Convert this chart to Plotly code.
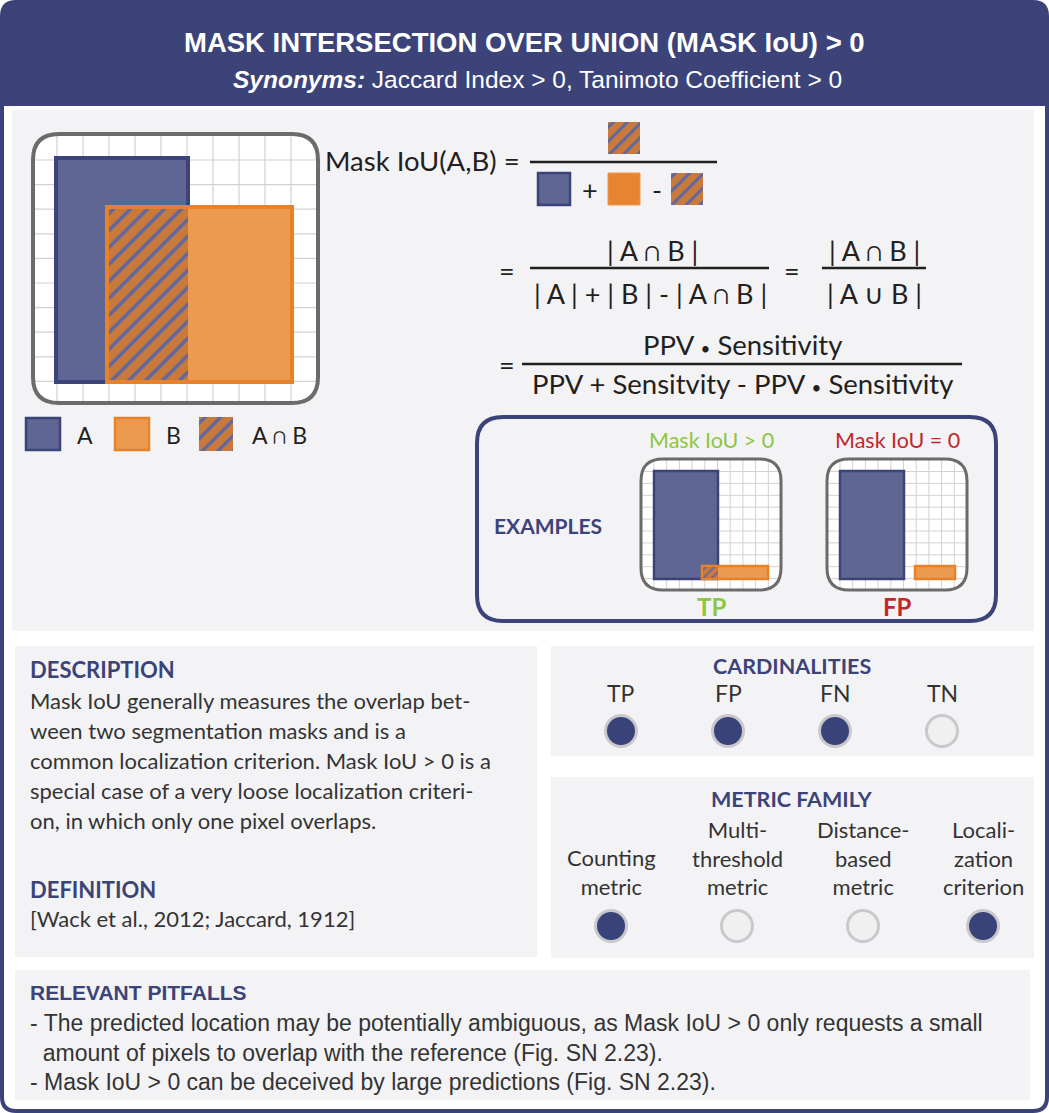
import plotly.graph_objects as go

W, H = 1049, 1113

# colours
NAVY = '#3B4379'
PANEL = '#F3F3F6'
BLUE_FILL = '#5F6694'
ORANGE_FILL = '#EC9A50'
ORANGE_LINE = '#E8822A'
HATCH_BG = '#C97A3B'
HATCH_FG = '#5F67A0'
GRID = '#D2D2D2'
BOX_LINE = '#6B6B6B'
TEXT = '#231F20'
BODY = '#333333'
GREEN = '#8DC63F'
RED = '#C1272D'
DOT_ON = '#394279'
DOT_OFF = '#F0F0F0'
DOT_RING = '#C9C9CD'

NARROW = 'Liberation Sans Narrow, Arial Narrow, sans-serif'
SANS = 'Lato, Open Sans, sans-serif'

# ---- content ----
title = 'MASK INTERSECTION OVER UNION (MASK IoU) &gt; 0'
subtitle = '<b><i>Synonyms:</i></b> Jaccard Index &gt; 0, Tanimoto Coefficient &gt; 0'

legend_labels = ['A', 'B', 'A ∩ B']

DOT = "<span style='font-size:17px'>•</span>"
formula_lhs = 'Mask IoU(A,B) ='
formula_num2 = '| A ∩ B |'
formula_den2 = '| A | + | B | - | A ∩ B |'
formula_den3 = '| A ∪ B |'
formula_num4 = f'PPV {DOT} Sensitivity'
formula_den4 = f'PPV + Sensitvity - PPV {DOT} Sensitivity'

description_lines = [
    'Mask IoU generally measures the overlap bet-',
    'ween two segmentation masks and is a',
    'common localization criterion. Mask IoU &gt; 0 is a',
    'special case of a very loose localization criteri-',
    'on, in which only one pixel overlaps.',
]
definition_text = '[Wack et al., 2012; Jaccard, 1912]'

cardinality_labels = ['TP', 'FP', 'FN', 'TN']
cardinality_active = [True, True, True, False]

family_labels = ['Counting<br>metric', 'Multi-<br>threshold<br>metric',
                 'Distance-<br>based<br>metric', 'Locali-<br>zation<br>criterion']
family_active = [True, False, False, True]

pitfall_lines = [
    '- The predicted location may be potentially ambiguous, as Mask IoU &gt; 0 only requests a small',
    '&nbsp;&nbsp;amount of pixels to overlap with the reference (Fig. SN 2.23).',
    '- Mask IoU &gt; 0 can be deceived by large predictions (Fig. SN 2.23).',
]

example_titles = ['Mask IoU &gt; 0', 'Mask IoU = 0']
example_labels = ['TP', 'FP']
example_colors = [GREEN, RED]

shapes = []
annotations = []


def rrect_path(x0, y0, x1, y1, r):
    return (f'M {x0+r},{y0} L {x1-r},{y0} Q {x1},{y0} {x1},{y0+r} '
            f'L {x1},{y1-r} Q {x1},{y1} {x1-r},{y1} L {x0+r},{y1} '
            f'Q {x0},{y1} {x0},{y1-r} L {x0},{y0+r} Q {x0},{y0} {x0+r},{y0} Z')


def rrect(x0, y0, x1, y1, r, fill=None, line=None, width=0, layer='below'):
    shapes.append(dict(type='path', path=rrect_path(x0, y0, x1, y1, r),
                       fillcolor=fill or 'rgba(0,0,0,0)',
                       line=dict(color=line or 'rgba(0,0,0,0)', width=width),
                       layer=layer))


def rect(x0, y0, x1, y1, fill=None, line=None, width=0, layer='below'):
    shapes.append(dict(type='rect', x0=x0, y0=y0, x1=x1, y1=y1,
                       fillcolor=fill or 'rgba(0,0,0,0)',
                       line=dict(color=line or 'rgba(0,0,0,0)', width=width),
                       layer=layer))


def hline(x0, x1, y, color, width):
    shapes.append(dict(type='line', x0=x0, x1=x1, y0=y, y1=y,
                       line=dict(color=color, width=width), layer='below'))


def vline(x, y0, y1, color, width):
    shapes.append(dict(type='line', x0=x, x1=x, y0=y0, y1=y1,
                       line=dict(color=color, width=width), layer='below'))


def text(x, y, s, size, color=TEXT, family=SANS, xanchor='center', bold=False,
         yanchor='middle'):
    if bold:
        s = f'<b>{s}</b>'
    annotations.append(dict(x=x, y=y, text=s, showarrow=False, xanchor=xanchor,
                            yanchor=yanchor, align='left' if xanchor == 'left' else 'center',
                            font=dict(size=size, color=color, family=family)))


def grid_box(x0, y0, x1, y1, r, gx0, dx, gy0, dy, n, lw, bw):
    rrect(x0, y0, x1, y1, r, fill='white')
    for k in range(n):
        vline(gx0 + k * dx, y0 + 1, y1 - 1, GRID, lw)
        hline(x0 + 1, x1 - 1, gy0 + k * dy, GRID, lw)
    return (x0, y0, x1, y1, r, bw)


hatch = dict(x=[], w=[], base=[], h=[], size=[])


def hatched(x0, y0, x1, y1, size):
    hatch['x'].append((x0 + x1) / 2)
    hatch['w'].append(x1 - x0)
    hatch['base'].append(y0)
    hatch['h'].append(y1 - y0)
    hatch['size'].append(size)


# ---- frame & header ----
rrect(2, 2, 1047, 1111, 14, fill='white', line=NAVY, width=4)
shapes.append(dict(type='path', layer='below', fillcolor=NAVY, line=dict(width=0),
                   path='M 2,16 Q 2,2 16,2 L 1033,2 Q 1047,2 1047,16 L 1047,106 L 2,106 Z'))
text(524, 42, title, 27.5, 'white', NARROW, bold=True)
text(537, 79, subtitle, 24.5, 'white', NARROW)

# ---- top panel ----
rect(12, 110, 1034, 631, fill=PANEL)

# large diagram
big = grid_box(33, 134, 318, 403, 26, 57, 26, 160, 24.6, 10, 1.2, 4)
rect(56, 158, 188, 382, fill=BLUE_FILL, line=NAVY, width=4)
rect(107, 207, 292, 382, fill=ORANGE_FILL, line=ORANGE_LINE, width=4)
hatched(109, 209, 188, 380, 12)
rrect(*big[:5], line=BOX_LINE, width=big[5])

# legend under diagram
rect(26, 418, 60, 450, fill=BLUE_FILL, line=NAVY, width=2.5)
text(85, 435, legend_labels[0], 23)
rect(115, 418, 149, 450, fill=ORANGE_FILL, line=ORANGE_LINE, width=2.5)
text(173, 435, legend_labels[1], 23)
hatched(199, 417, 233, 451, 11)
text(279, 435, legend_labels[2], 23)

# formula line 1
text(522, 160, formula_lhs, 27.5, xanchor='right')
hline(530, 717, 162, TEXT, 2.5)
hatched(608, 122, 640, 154, 10)
rect(538, 173, 570, 205, fill=BLUE_FILL, line=NAVY, width=2.5)
text(590, 189, '+', 27)
rect(608, 173, 640, 205, fill='#E8842F', line=ORANGE_FILL, width=1)
text(657, 189, '-', 27)
hatched(671, 173, 703, 205, 10)

# formula line 2
text(507, 270, '=', 27)
hline(530, 769, 268, TEXT, 2.5)
text(652, 250, formula_num2, 27)
text(650, 293, formula_den2, 27)
text(792, 270, '=', 27)
hline(822, 926, 268, TEXT, 2.5)
text(874, 250, formula_num2, 27)
text(874, 293, formula_den3, 27)

# formula line 3
text(507, 364, '=', 27)
hline(522, 962, 364, TEXT, 2.5)
text(742, 344, formula_num4, 27.5)
text(742, 383, formula_den4, 27.5)

# examples box
rrect(477, 417, 996, 621, 26, line=NAVY, width=4)
text(548, 525, 'EXAMPLES', 21, NAVY, SANS, bold=True)
ex_shift = [0, 186]
orange_bars = [(702, 768), (915, 955)]
for i, dx in enumerate(ex_shift):
    box = grid_box(641 + dx, 459, 781 + dx, 590, 22, 654 + dx, 12.7, 471.5, 11.9, 10, 1, 3)
    rect(654 + dx, 471, 718 + dx, 579, fill=BLUE_FILL, line=NAVY, width=2.5)
    ox0, ox1 = orange_bars[i]
    rect(ox0, 566, ox1, 579, fill=ORANGE_FILL, line=ORANGE_LINE, width=2.5)
    rrect(*box[:5], line=BOX_LINE, width=box[5])
    text(711 + dx, 440, example_titles[i], 21.5, example_colors[i])
    text(711 + dx, 606, example_labels[i], 24, example_colors[i], bold=True)
hatched(703, 567, 718, 578, 6)

# ---- description panel ----
rect(15, 646, 537, 957, fill=PANEL)
text(28, 669, 'DESCRIPTION', 22, NAVY, SANS, 'left', bold=True)
for i, ln in enumerate(description_lines):
    text(28, 700 + i * 30, ln, 22, BODY, SANS, 'left')
text(28, 889, 'DEFINITION', 22, NAVY, SANS, 'left', bold=True)
text(28, 918, definition_text, 22, BODY, SANS, 'left')

# ---- cardinalities ----
rect(551, 646, 1034, 756, fill=PANEL)
text(792, 666, 'CARDINALITIES', 21.5, NAVY, SANS, bold=True)
card_x = [621, 728, 835, 942]
for x, lab in zip(card_x, cardinality_labels):
    text(x, 693, lab, 23, BODY)

# ---- metric family ----
rect(551, 777, 1034, 958, fill=PANEL)
text(792, 799, 'METRIC FAMILY', 21.5, NAVY, SANS, bold=True)
fam_x = [611, 737, 863, 983]
for x, lab in zip(fam_x, family_labels):
    text(x, 902, lab, 22, BODY, yanchor='bottom')

# ---- pitfalls ----
rect(15, 970, 1030, 1100, fill=PANEL)
text(28, 992, 'RELEVANT PITFALLS', 21, NAVY, NARROW, 'left', bold=True)
for i, ln in enumerate(pitfall_lines):
    text(28, 1023 + i * 29.5, ln, 23, BODY, NARROW, 'left')

fig = go.Figure()

# hatched areas (intersection)
fig.add_trace(go.Bar(
    x=hatch['x'], y=hatch['h'], base=hatch['base'], width=hatch['w'],
    marker=dict(color=HATCH_BG, line=dict(width=0),
                pattern=dict(shape='/', fgcolor=HATCH_FG, bgcolor=HATCH_BG,
                             size=hatch['size'], solidity=0.3, fillmode='replace')),
    hoverinfo='skip', showlegend=False))

# indicator dots
dot_x = card_x + fam_x
dot_y = [731] * 4 + [926] * 4
dot_on = cardinality_active + family_active
fig.add_trace(go.Scatter(
    x=dot_x, y=dot_y, mode='markers', hoverinfo='skip', showlegend=False,
    marker=dict(size=31, color=[DOT_ON if a else DOT_OFF for a in dot_on],
                line=dict(color=DOT_RING, width=3))))

fig.update_layout(
    width=W, height=H, margin=dict(l=0, r=0, t=0, b=0),
    paper_bgcolor='white', plot_bgcolor='white',
    xaxis=dict(range=[0, W], visible=False, fixedrange=True),
    yaxis=dict(range=[H, 0], visible=False, fixedrange=True),
    barmode='overlay', bargap=0,
    shapes=shapes, annotations=annotations,
    showlegend=False,
)

fig.write_html("out.html", config={'displayModeBar': False},
               post_script="document.body.style.margin='0';")
